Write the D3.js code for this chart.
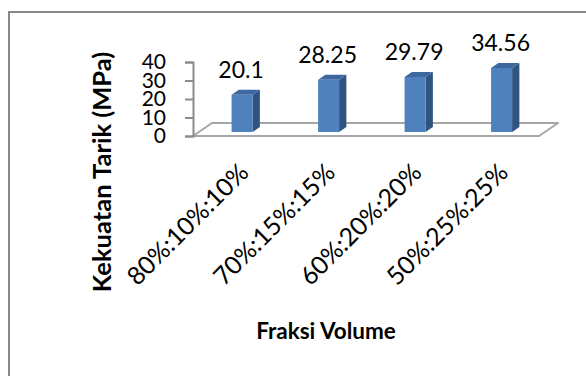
<!DOCTYPE html>
<html>
<head>
<meta charset="utf-8">
<script src="https://cdn.jsdelivr.net/npm/d3@7"></script>
<style>
  html, body { margin: 0; padding: 0; background: #fff; }
  svg { display: block; }
  text { font-family: Lato, "Liberation Sans", Arial, sans-serif; fill: #000; }
</style>
</head>
<body>
<svg id="chart" width="586" height="376"></svg>
<script>
// Tensile strength by volume fraction
const categories = ["80%:10%:10%", "70%:15%:15%", "60%:20%:20%", "50%:25%:25%"];
const values = [20.1, 28.25, 29.79, 34.56];
const valueLabels = ["20.1", "28.25", "29.79", "34.56"];
const yTicks = [0, 10, 20, 30, 40];
const yTitle = "Kekuatan Tarik (MPa)";
const xTitle = "Fraksi Volume";

const svg = d3.select("#chart");
const W = 586, H = 376;

// outer chart frame (left and top edges visible)
svg.append("rect")
  .attr("x", 9).attr("y", 12)
  .attr("width", W + 20).attr("height", H + 20)
  .attr("fill", "#fff").attr("stroke", "#888").attr("stroke-width", 2);

// front plane of the 3D box
const x = d3.scaleBand().domain(categories).range([193, 539]).paddingInner(0).paddingOuter(0);
const y = d3.scaleLinear().domain([0, 40]).range([136, 62]);

// oblique projection: depth d shifts a point by (kx*d, -d)
const kx = 1.46;
const floorDepth = 13;
const barFront = 4, barBack = 9;
const proj = (px, py, d) => [px + kx * d, py - d];

// floor
const fl = [proj(x.range()[0], y(0), 0), proj(x.range()[1], y(0), 0),
            proj(x.range()[1], y(0), floorDepth), proj(x.range()[0], y(0), floorDepth)];
svg.append("path")
  .attr("d", "M" + fl.map(p => p.join(",")).join("L") + "Z")
  .attr("fill", "#fff").attr("stroke", "#a6a6a6").attr("stroke-width", 2)
  .attr("stroke-linejoin", "round");

// value axis on the front-left edge
const yAxis = d3.axisLeft(y).tickValues(yTicks).tickSize(8).tickPadding(19).tickFormat(d3.format("d"));
const ax = svg.append("g").attr("transform", `translate(${x.range()[0]},0)`).call(yAxis);
ax.select(".domain").attr("stroke", "#8c8c8c").attr("stroke-width", 2);
ax.selectAll(".tick line").attr("stroke", "#8c8c8c").attr("stroke-width", 2);
ax.selectAll(".tick text").attr("font-size", 21).attr("font-family", "Lato, 'Liberation Sans', Arial, sans-serif").attr("fill", "#000");

// bars as 3D prisms
const barW = 21;
const bars = svg.append("g");
categories.forEach((c, i) => {
  const v = values[i];
  const cx = x(c) + x.bandwidth() / 2;
  const x0 = cx - barW / 2, x1 = cx + barW / 2;
  const ftl = proj(x0, y(v), barFront), ftr = proj(x1, y(v), barFront);
  const fbl = proj(x0, y(0), barFront), fbr = proj(x1, y(0), barFront);
  const btl = proj(x0, y(v), barBack), btr = proj(x1, y(v), barBack);
  const bbr = proj(x1, y(0), barBack);
  const poly = pts => "M" + pts.map(p => p.join(",")).join("L") + "Z";
  // side face
  bars.append("path").attr("d", poly([ftr, btr, bbr, fbr])).attr("fill", "#2f5481");
  // top face
  bars.append("path").attr("d", poly([ftl, btl, btr, ftr])).attr("fill", "#3d68a1");
  // front face
  bars.append("path").attr("d", poly([ftl, ftr, fbr, fbl])).attr("fill", "#4f81bd");

  // value label
  svg.append("text")
    .attr("x", (x0 + x1) / 2 + kx * barFront - 1)
    .attr("y", y(v) - barFront - 17)
    .attr("text-anchor", "middle")
    .attr("font-size", 23)
    .text(valueLabels[i]);
});

// rotated category labels
categories.forEach(c => {
  const px = x(c) + x.bandwidth() / 2 + 14;
  const py = 174;
  svg.append("text")
    .attr("transform", `translate(${px},${py}) rotate(-45)`)
    .attr("text-anchor", "end")
    .attr("font-size", 25)
    .text(c);
});

// axis titles
svg.append("text")
  .attr("transform", "translate(111,172) rotate(-90)")
  .attr("text-anchor", "middle")
  .attr("font-size", 25.5).attr("font-weight", "bold")
  .text(yTitle);

svg.append("text")
  .attr("x", 326).attr("y", 339)
  .attr("text-anchor", "middle")
  .attr("font-size", 22.5).attr("font-weight", "bold")
  .text(xTitle);
</script>
</body>
</html>
